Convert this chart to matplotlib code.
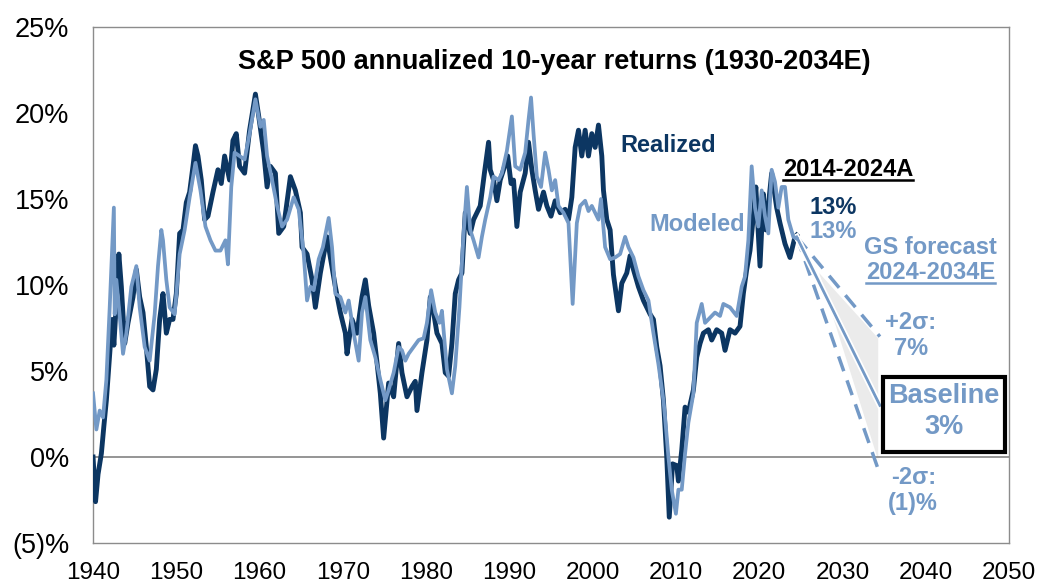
import numpy as np
import matplotlib.pyplot as plt
from matplotlib.lines import Line2D
from matplotlib.patches import Rectangle, Polygon
import matplotlib.patheffects as pe

plt.rcParams['font.family'] = ['Liberation Sans', 'DejaVu Sans']

# --- data (annualized 10y return, %) ---
realized_years = [1940.0, 1940.3, 1940.6, 1941.0, 1941.3, 1941.6, 1942.0, 1942.3, 1942.5, 1942.8,
                  1943.1, 1943.4, 1943.8, 1944.2, 1944.8, 1945.2, 1945.6, 1946.0, 1946.4, 1946.8,
                  1947.2, 1947.6, 1948.0, 1948.4, 1948.6, 1948.8, 1949.2, 1949.6, 1950.0, 1950.4,
                  1950.8, 1951.2, 1951.6, 1952.0, 1952.3, 1952.6, 1953.0, 1953.4, 1953.8, 1954.4,
                  1955.0, 1955.4, 1955.8, 1956.4, 1956.8, 1957.2, 1957.6, 1958.2, 1958.8, 1959.5,
                  1959.9, 1960.5, 1960.9, 1961.3, 1961.9, 1962.3, 1962.9, 1963.7, 1964.3, 1964.9,
                  1965.1, 1965.7, 1966.3, 1966.7, 1967.3, 1968.1, 1968.5, 1969.1, 1969.7, 1970.3,
                  1970.5, 1971.1, 1971.7, 1972.3, 1972.7, 1973.1, 1973.7, 1974.1, 1974.5, 1974.9,
                  1975.5, 1976.1, 1976.7, 1977.1, 1977.7, 1978.3, 1978.7, 1978.9, 1979.5, 1980.1,
                  1980.5, 1980.9, 1981.3, 1981.9, 1982.3, 1982.7, 1983.1, 1983.5, 1983.9, 1984.3,
                  1984.7, 1985.3, 1985.7, 1986.1, 1986.5, 1987.0, 1987.5, 1987.7, 1988.1, 1988.5,
                  1988.9, 1989.3, 1989.8, 1990.2, 1990.5, 1990.9, 1991.3, 1991.9, 1992.3, 1992.7,
                  1993.1, 1993.5, 1994.1, 1994.5, 1995.0, 1995.5, 1996.1, 1996.7, 1997.1, 1997.5,
                  1997.9, 1998.3, 1998.7, 1999.1, 1999.5, 1999.9, 2000.3, 2000.7, 2001.1, 2001.3,
                  2001.7, 2002.1, 2002.5, 2003.1, 2003.5, 2004.1, 2004.5, 2004.9, 2005.5, 2006.1,
                  2006.9, 2007.3, 2007.7, 2008.1, 2008.5, 2008.9, 2009.2, 2009.6, 2010.1, 2010.3,
                  2010.7, 2011.1, 2011.5, 2012.1, 2012.5, 2012.9, 2013.3, 2013.9, 2014.3, 2014.9,
                  2015.5, 2015.9, 2016.5, 2017.1, 2017.7, 2018.1, 2018.5, 2018.9, 2019.3, 2019.6,
                  2020.1, 2020.5, 2020.8, 2021.5, 2022.1, 2022.5, 2023.1, 2023.7, 2024.3, 2024.5]
realized = [0.0, -2.6, -1.0, 0.2, 1.8, 3.3, 6.0, 8.0, 6.5, 9.0,
            11.8, 9.9, 6.6, 7.8, 9.3, 10.9, 9.3, 8.4, 6.4, 4.1,
            3.9, 5.1, 8.0, 9.5, 8.4, 7.2, 8.0, 8.0, 9.5, 13.0,
            13.2, 14.8, 15.4, 16.9, 18.1, 17.5, 16.1, 13.8, 14.0, 15.4,
            16.7, 15.9, 17.5, 16.1, 18.4, 18.8, 16.9, 16.5, 19.0, 21.1,
            19.8, 17.7, 15.7, 16.9, 16.5, 13.0, 13.4, 16.3, 15.5, 14.2,
            12.2, 11.8, 10.3, 8.7, 10.7, 12.8, 11.6, 9.9, 8.4, 7.2,
            6.0, 8.0, 7.2, 9.3, 10.3, 8.8, 7.2, 5.5, 3.7, 1.1,
            4.3, 3.5, 6.6, 4.9, 3.5, 4.1, 4.4, 2.7, 4.9, 6.8,
            9.3, 8.4, 7.2, 6.6, 4.9, 4.7, 6.6, 9.5, 10.3, 10.7,
            14.2, 13.0, 13.8, 14.2, 14.6, 16.5, 18.3, 16.7, 16.1, 14.9,
            16.1, 16.7, 17.5, 15.9, 16.1, 13.4, 15.4, 16.5, 18.3, 16.7,
            15.5, 14.4, 15.4, 14.6, 14.0, 14.9, 14.2, 14.4, 13.8, 15.1,
            18.0, 19.0, 17.5, 19.0, 17.5, 18.8, 18.0, 19.3, 17.5, 15.5,
            13.8, 13.2, 10.6, 8.5, 10.1, 10.7, 11.7, 10.9, 9.9, 9.1,
            8.3, 8.0, 6.4, 5.3, 3.3, 0.0, -3.5, -0.4, -0.5, -1.4,
            0.4, 2.9, 2.6, 3.9, 5.8, 6.6, 7.2, 7.4, 6.8, 7.4,
            7.2, 6.2, 7.4, 7.2, 7.6, 9.5, 10.9, 12.0, 14.0, 15.7,
            11.1, 15.3, 13.2, 16.5, 14.5, 13.6, 12.4, 11.6, 12.8, 12.9]

modeled_years = [1940.0, 1940.4, 1940.8, 1941.2, 1941.6, 1942.0, 1942.5, 1942.6, 1942.8, 1943.2,
                 1943.6, 1944.0, 1944.6, 1945.2, 1945.6, 1946.2, 1946.8, 1947.4, 1947.8, 1948.2,
                 1948.4, 1948.8, 1949.2, 1949.8, 1950.4, 1951.0, 1951.6, 1952.3, 1952.9, 1953.5,
                 1954.1, 1954.7, 1955.3, 1955.9, 1956.2, 1956.6, 1957.0, 1957.6, 1958.2, 1958.8,
                 1959.5, 1960.1, 1960.5, 1960.9, 1961.5, 1962.1, 1962.7, 1963.3, 1964.1, 1964.7,
                 1965.3, 1965.7, 1966.1, 1966.5, 1967.1, 1967.6, 1968.3, 1968.7, 1969.1, 1969.7,
                 1970.3, 1970.7, 1971.3, 1971.9, 1972.3, 1972.7, 1973.3, 1973.9, 1974.5, 1975.1,
                 1975.5, 1976.1, 1976.7, 1977.1, 1977.5, 1977.9, 1978.5, 1979.1, 1979.7, 1980.1,
                 1980.6, 1981.1, 1981.6, 1981.9, 1982.5, 1983.1, 1983.5, 1984.0, 1984.5, 1984.9,
                 1985.3, 1985.7, 1986.3, 1986.7, 1987.1, 1987.7, 1988.1, 1988.7, 1989.1, 1989.7,
                 1990.3, 1990.7, 1991.3, 1991.9, 1992.3, 1992.6, 1992.9, 1993.3, 1993.8, 1994.3,
                 1994.7, 1995.1, 1995.5, 1995.9, 1996.5, 1997.1, 1997.6, 1998.1, 1998.5, 1999.1,
                 1999.5, 1999.9, 2000.3, 2000.7, 2001.0, 2001.5, 2002.1, 2002.7, 2003.3, 2003.9,
                 2004.3, 2004.9, 2005.5, 2006.1, 2006.7, 2007.3, 2007.9, 2008.5, 2008.7, 2009.1,
                 2009.5, 2010.0, 2010.3, 2010.7, 2011.1, 2011.5, 2012.1, 2012.5, 2013.1, 2013.5,
                 2014.1, 2014.7, 2015.3, 2015.7, 2016.5, 2017.3, 2017.9, 2018.3, 2018.7, 2019.1,
                 2019.5, 2019.9, 2020.3, 2020.7, 2021.1, 2021.5, 2021.9, 2022.3, 2022.7, 2023.1,
                 2023.5, 2024.1, 2024.5]
modeled = [3.7, 1.6, 2.7, 2.3, 4.5, 8.7, 14.5, 8.3, 10.3, 8.2,
           6.0, 7.2, 9.9, 11.1, 8.7, 6.4, 5.6, 8.3, 11.1, 13.2,
           12.6, 10.3, 8.7, 8.3, 11.8, 13.2, 15.1, 17.1, 15.5, 13.4,
           12.6, 12.0, 12.0, 12.6, 11.2, 15.7, 17.7, 17.5, 17.3, 18.8,
           20.8, 19.2, 19.6, 17.5, 16.1, 14.6, 13.4, 13.8, 15.1, 14.4,
           11.8, 9.1, 9.9, 9.7, 11.5, 12.2, 13.9, 12.2, 9.5, 9.3,
           8.4, 9.1, 7.2, 5.6, 8.4, 9.3, 6.8, 5.8, 4.5, 3.3,
           3.9, 4.9, 6.4, 6.2, 5.6, 6.0, 6.4, 6.8, 6.9, 7.8,
           9.7, 8.4, 7.8, 8.5, 5.1, 3.7, 5.3, 8.7, 13.0, 15.7,
           13.2, 12.6, 11.6, 12.8, 13.8, 15.1, 16.3, 16.1, 16.5, 17.8,
           19.8, 16.9, 16.7, 17.7, 19.6, 20.9, 18.8, 16.3, 15.7, 17.7,
           16.7, 15.5, 16.1, 14.6, 14.2, 13.6, 8.9, 13.6, 14.6, 14.9,
           14.3, 14.6, 14.2, 13.8, 15.0, 12.2, 11.5, 11.6, 11.8, 12.8,
           12.2, 11.6, 10.5, 9.7, 9.1, 7.2, 5.4, 3.3, 2.3, 0.0,
           -1.9, -3.3, -1.9, -1.9, 0.2, 2.0, 3.7, 7.8, 8.9, 7.8,
           8.1, 8.4, 8.2, 8.9, 8.7, 8.2, 9.9, 10.5, 12.6, 16.9,
           14.5, 13.4, 15.5, 14.0, 13.0, 16.7, 16.0, 14.5, 15.7, 15.7,
           13.8, 12.8, 12.7]

# GS forecast 2024-2034E
fc_years = [2024.5, 2034.5]
fc_base = [12.8, 3.0]
fc_hi = [12.8, 7.0]
fc_lo = [12.8, -1.0]
band_years = [2027.2, 2034.3]
band_hi = [10.7, 6.9]
band_lo = [10.7, -0.2]

DARK = '#0c3662'
LIGHT = '#7399c6'
GRAY = '#8c8c8c'

fig = plt.figure(figsize=(10.42, 5.86), dpi=100)
ax = fig.add_axes([0.0893, 0.0734, 0.8790, 0.8805])

# shaded band
poly = Polygon([[band_years[0], band_hi[0]], [band_years[1], band_hi[1]],
                [band_years[1], band_lo[1]], [band_years[0], band_lo[0]]],
               closed=True, facecolor='#ebebeb', edgecolor='none', zorder=1)
ax.add_patch(poly)

ax.axhline(0, color=GRAY, lw=1.3, zorder=1)

ax.plot(realized_years, realized, color=DARK, lw=3.5, solid_joinstyle='round', zorder=3)
ax.plot(modeled_years, modeled, color=LIGHT, lw=2.7, solid_joinstyle='round', zorder=4)

ax.plot(fc_years, fc_hi, color=LIGHT, lw=2.5, dashes=(4.5, 2.8), zorder=3)
ax.plot(fc_years, fc_lo, color=LIGHT, lw=2.5, dashes=(4.5, 2.8), zorder=3)
ax.plot(fc_years, fc_base, color=LIGHT, lw=2.0, zorder=3,
        path_effects=[pe.Stroke(linewidth=4.5, foreground='white'), pe.Normal()])

ax.set_xlim(1940, 2050)
ax.set_ylim(-5, 25)
ax.set_xticks(np.arange(1940, 2051, 10))
ax.set_yticks(np.arange(-5, 26, 5))
ax.set_yticklabels(['(5)%', '0%', '5%', '10%', '15%', '20%', '25%'])
ax.tick_params(axis='y', length=0, pad=17, labelsize=19.5)
ax.tick_params(axis='x', length=0, pad=14, labelsize=17.5)
for s in ax.spines.values():
    s.set_color(GRAY)
    s.set_linewidth(1.0)

ax.text(0.504, 0.932, 'S&P 500 annualized 10-year returns (1930-2034E)', transform=ax.transAxes,
        ha='center', va='center', fontsize=19.5, fontweight='bold', color='black')

FS = 17
ax.text(2003.3, 18.1, 'Realized', ha='left', va='center', fontsize=FS, fontweight='bold', color=DARK)
ax.text(2006.8, 13.5, 'Modeled', ha='left', va='center', fontsize=FS, fontweight='bold', color=LIGHT)
t_a = ax.text(2030.7, 16.7, '2014-2024A', ha='center', va='center', fontsize=FS,
              fontweight='bold', color='black')
ax.text(2028.9, 14.5, '13%', ha='center', va='center', fontsize=FS, fontweight='bold', color=DARK)
ax.text(2028.9, 13.1, '13%', ha='center', va='center', fontsize=FS, fontweight='bold', color=LIGHT)
ax.text(2040.6, 12.2, 'GS forecast', ha='center', va='center', fontsize=FS, fontweight='bold', color=LIGHT)
t_e = ax.text(2040.6, 10.7, '2024-2034E', ha='center', va='center', fontsize=FS,
              fontweight='bold', color=LIGHT)
ax.text(2038.2, 7.8, '+2σ:', ha='center', va='center', fontsize=FS, fontweight='bold', color=LIGHT)
ax.text(2038.2, 6.3, '7%', ha='center', va='center', fontsize=FS, fontweight='bold', color=LIGHT)
ax.text(2042.2, 3.55, 'Baseline', ha='center', va='center', fontsize=19.5, fontweight='bold', color=LIGHT)
ax.text(2042.2, 1.75, '3%', ha='center', va='center', fontsize=19.5, fontweight='bold', color=LIGHT)
ax.text(2038.6, -1.2, '-2σ:', ha='center', va='center', fontsize=FS, fontweight='bold', color=LIGHT)
ax.text(2038.5, -2.7, '(1)%', ha='center', va='center', fontsize=FS, fontweight='bold', color=LIGHT)

ax.add_patch(Rectangle((2034.9, 0.29), 14.6, 4.36, fill=False, edgecolor='black', lw=3,
                       zorder=5, clip_on=False))

# underline two labels
fig.canvas.draw()
r = fig.canvas.get_renderer()
for t, c in [(t_a, 'black'), (t_e, LIGHT)]:
    bb = t.get_window_extent(r)
    y = bb.y0 + 1
    fig.add_artist(Line2D([bb.x0, bb.x1], [y, y], transform=None, color=c, lw=1.8))

fig.savefig('out.png', dpi=100)
